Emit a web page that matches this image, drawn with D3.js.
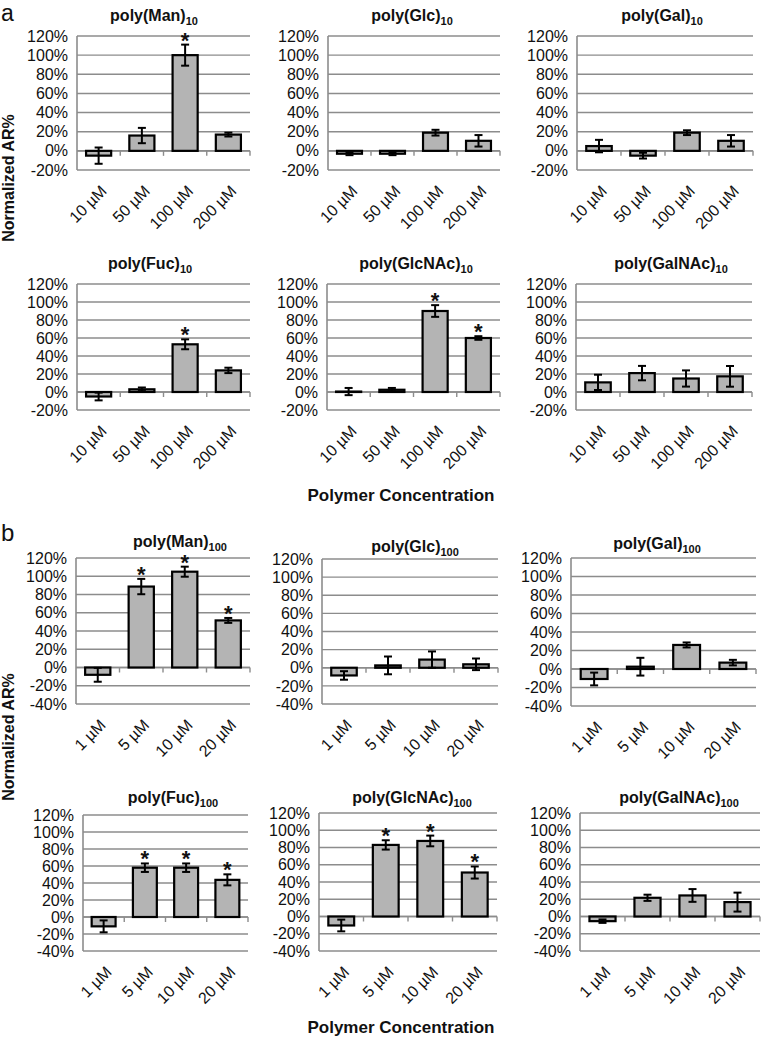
<!DOCTYPE html>
<html><head><meta charset="utf-8">
<script src="https://cdn.jsdelivr.net/npm/d3@7"></script>
<style>body{margin:0;background:#fff} svg{display:block} text{font-family:"Liberation Sans",Arial,sans-serif}</style>
</head><body><svg id="c" width="761" height="1040"></svg>
<script>
// ---------- data ----------
const catsA = ["10 µM", "50 µM", "100 µM", "200 µM"];
const catsB = ["1 µM", "5 µM", "10 µM", "20 µM"];
const yTicksA = [-20, 0, 20, 40, 60, 80, 100, 120];
const yTicksB = [-40, -20, 0, 20, 40, 60, 80, 100, 120];
const sugars = ["Man", "Glc", "Gal", "Fuc", "GlcNAc", "GalNAc"];

// panel a (DP 10)
const manA = [-5, 16, 100, 17],      manAErr = [8.5, 8, 11, 2],     manAStar = [0, 0, 1, 0];
const glcA = [-3, -3, 19, 10.5],     glcAErr = [1.5, 1.5, 3, 6],    glcAStar = [0, 0, 0, 0];
const galA = [5, -5, 19, 10.5],      galAErr = [6.5, 3, 2.5, 6],    galAStar = [0, 0, 0, 0];
const fucA = [-5, 3, 53, 24],        fucAErr = [4.3, 2, 5.5, 3],    fucAStar = [0, 0, 1, 0];
const glcnacA = [0.5, 2.5, 90, 60],  glcnacAErr = [4, 2, 6.5, 2],   glcnacAStar = [0, 0, 1, 1];
const galnacA = [10.7, 21, 15, 17.4],galnacAErr = [8.5, 8, 9, 11.5],galnacAStar = [0, 0, 0, 0];

// panel b (DP 100)
const manB = [-8, 88.7, 105, 51.6],  manBErr = [7.6, 8.4, 5.5, 2.7], manBStar = [0, 1, 1, 1];
const glcB = [-8.5, 2.6, 9, 3.8],    glcBErr = [4.7, 9.8, 9, 6.4],   glcBStar = [0, 0, 0, 0];
const galB = [-10.8, 2.5, 26, 6.9],  galBErr = [6.9, 9.6, 2.7, 3],   galBStar = [0, 0, 0, 0];
const fucB = [-11, 58, 58, 43.7],    fucBErr = [7, 5, 5, 6.5],       fucBStar = [0, 1, 1, 1];
const glcnacB = [-10.4, 83, 87.6, 51], glcnacBErr = [6.8, 5.4, 6.2, 7], glcnacBStar = [0, 1, 1, 1];
const galnacB = [-5.4, 21.7, 24.4, 16.7], galnacBErr = [2, 3.6, 7.4, 11], galnacBStar = [0, 0, 0, 0];

// ---------- layout ----------
const panels = [
  {s:0, sub:"10", cats:catsA, ticks:yTicksA, v:manA, e:manAErr, st:manAStar, x0:77, x1:250, yT:36, yB:170, tx:154, ty:21},
  {s:1, sub:"10", cats:catsA, ticks:yTicksA, v:glcA, e:glcAErr, st:glcAStar, x0:328, x1:500, yT:36, yB:170, tx:412, ty:21},
  {s:2, sub:"10", cats:catsA, ticks:yTicksA, v:galA, e:galAErr, st:galAStar, x0:577, x1:753, yT:36, yB:170, tx:662, ty:21},
  {s:3, sub:"10", cats:catsA, ticks:yTicksA, v:fucA, e:fucAErr, st:fucAStar, x0:77, x1:250, yT:284, yB:410, tx:150, ty:269},
  {s:4, sub:"10", cats:catsA, ticks:yTicksA, v:glcnacA, e:glcnacAErr, st:glcnacAStar, x0:327, x1:500, yT:284, yB:410, tx:416, ty:269},
  {s:5, sub:"10", cats:catsA, ticks:yTicksA, v:galnacA, e:galnacAErr, st:galnacAStar, x0:576, x1:752, yT:284, yB:410, tx:671, ty:269},
  {s:0, sub:"100", cats:catsB, ticks:yTicksB, v:manB, e:manBErr, st:manBStar, x0:76, x1:250, yT:558, yB:704, tx:180, ty:547},
  {s:1, sub:"100", cats:catsB, ticks:yTicksB, v:glcB, e:glcBErr, st:glcBStar, x0:322, x1:498, yT:559, yB:704, tx:415, ty:552},
  {s:2, sub:"100", cats:catsB, ticks:yTicksB, v:galB, e:galBErr, st:galBStar, x0:571, x1:756, yT:558, yB:706, tx:657, ty:549},
  {s:3, sub:"100", cats:catsB, ticks:yTicksB, v:fucB, e:fucBErr, st:fucBStar, x0:83, x1:248, yT:815, yB:951, tx:173, ty:803},
  {s:4, sub:"100", cats:catsB, ticks:yTicksB, v:glcnacB, e:glcnacBErr, st:glcnacBStar, x0:319, x1:497, yT:813, yB:951, tx:412, ty:803},
  {s:5, sub:"100", cats:catsB, ticks:yTicksB, v:galnacB, e:galnacBErr, st:galnacBStar, x0:580, x1:760, yT:813, yB:951, tx:679, ty:803}
];

const svg = d3.select("#c");
const GRID = "#8c8c8c", BAR = "#b4b4b4";

panels.forEach(p => {
  const g = svg.append("g");
  const y = d3.scaleLinear().domain([p.ticks[0], p.ticks[p.ticks.length - 1]]).range([p.yB, p.yT]);
  const x = d3.scaleBand().domain(p.cats).range([p.x0, p.x1]).paddingInner(0.42).paddingOuter(0.21);
  const step = (p.x1 - p.x0) / p.cats.length;

  // gridlines
  g.selectAll(".grid").data(p.ticks).join("line")
    .attr("x1", p.x0).attr("x2", p.x1)
    .attr("y1", d => y(d)).attr("y2", d => y(d))
    .attr("stroke", GRID).attr("stroke-width", 1.4);

  // y axis
  const ya = g.append("g").attr("transform", `translate(${p.x0},0)`)
    .call(d3.axisLeft(y).tickValues(p.ticks).tickSize(0).tickPadding(9).tickFormat(d => d + "%"));
  ya.select(".domain").remove();
  ya.selectAll("text").attr("font-size", 16).attr("fill", "#111")
    .style("font-family", '"Liberation Sans", Arial, sans-serif');
  g.append("line").attr("x1", p.x0).attr("x2", p.x0).attr("y1", p.yT).attr("y2", p.yB)
    .attr("stroke", GRID).attr("stroke-width", 1.6);

  // zero axis with boundary ticks
  g.append("line").attr("x1", p.x0).attr("x2", p.x1).attr("y1", y(0)).attr("y2", y(0))
    .attr("stroke", GRID).attr("stroke-width", 1.6);
  g.selectAll(".xt").data(d3.range(1, p.cats.length + 1)).join("line")
    .attr("x1", k => p.x0 + k * step).attr("x2", k => p.x0 + k * step)
    .attr("y1", y(0)).attr("y2", y(0) + 5)
    .attr("stroke", GRID).attr("stroke-width", 1.4);

  // x labels (at plot bottom)
  const xa = g.append("g").attr("transform", `translate(0,${p.yB})`)
    .call(d3.axisBottom(x).tickSize(0).tickPadding(0));
  xa.select(".domain").remove();
  xa.selectAll("text").attr("font-size", 16).attr("fill", "#111")
    .style("font-family", '"Liberation Sans", Arial, sans-serif')
    .attr("text-anchor", "end").attr("dy", null).attr("y", 0)
    .attr("transform", "translate(9,22) rotate(-45)");

  const data = p.cats.map((c, i) => ({c, v: p.v[i], e: p.e[i], s: p.st[i]}));

  // bars
  g.selectAll(".bar").data(data).join("rect")
    .attr("x", d => x(d.c)).attr("width", x.bandwidth())
    .attr("y", d => Math.min(y(d.v), y(0)))
    .attr("height", d => Math.abs(y(d.v) - y(0)))
    .attr("fill", BAR).attr("stroke", "#000").attr("stroke-width", 2.2);

  // error bars
  const cx = d => x(d.c) + x.bandwidth() / 2;
  const eb = g.selectAll(".eb").data(data).join("g").attr("stroke", "#000").attr("stroke-width", 2);
  eb.append("line").attr("x1", cx).attr("x2", cx).attr("y1", d => y(d.v - d.e)).attr("y2", d => y(d.v + d.e));
  eb.append("line").attr("x1", d => cx(d) - 4).attr("x2", d => cx(d) + 4).attr("y1", d => y(d.v + d.e)).attr("y2", d => y(d.v + d.e));
  eb.append("line").attr("x1", d => cx(d) - 4).attr("x2", d => cx(d) + 4).attr("y1", d => y(d.v - d.e)).attr("y2", d => y(d.v - d.e));

  // stars
  g.selectAll(".star").data(data.filter(d => d.s)).join("text")
    .attr("x", cx).attr("y", d => y(d.v + d.e) + 3)
    .attr("text-anchor", "middle").attr("font-size", 22).attr("font-weight", "bold").attr("fill", "#111").text("*");

  // title
  const t = g.append("text").attr("x", p.tx).attr("y", p.ty).attr("text-anchor", "middle")
    .attr("font-weight", "bold").attr("font-size", 16).attr("fill", "#111");
  t.append("tspan").text("poly(" + sugars[p.s] + ")");
  t.append("tspan").attr("font-size", 11).attr("dy", 4).text(p.sub);
});

// shared labels
svg.append("text").attr("x", 1).attr("y", 21).attr("font-size", 23).attr("fill", "#111").text("a");
svg.append("text").attr("x", 1).attr("y", 541).attr("font-size", 24).attr("fill", "#111").text("b");
[178, 737].forEach(cy => {
  svg.append("text").attr("transform", `translate(14,${cy}) rotate(-90)`).attr("text-anchor", "middle")
    .attr("font-weight", "bold").attr("font-size", 16).attr("fill", "#111").text("Normalized AR%");
});
[501, 1033].forEach(yy => {
  svg.append("text").attr("x", 401).attr("y", yy).attr("text-anchor", "middle")
    .attr("font-weight", "bold").attr("font-size", 17).attr("fill", "#111").text("Polymer Concentration");
});
</script></body></html>
